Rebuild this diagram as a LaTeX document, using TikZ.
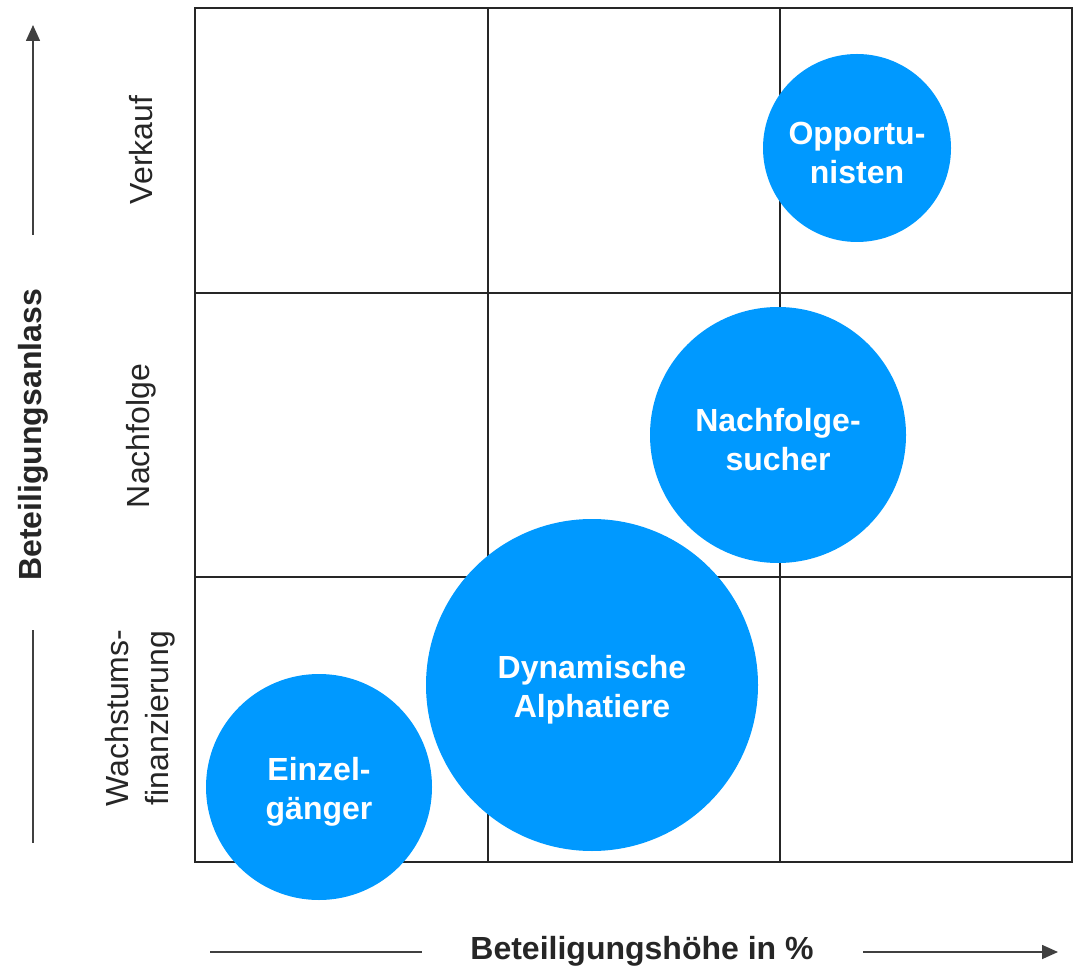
\documentclass[tikz,border=0pt]{standalone}
\usepackage{fontspec}
\setmainfont{Liberation Sans}
\usetikzlibrary{arrows.meta}

\definecolor{bubble}{RGB}{0,153,255}

\tikzstyle{player} = [circle, fill=bubble, inner sep=0pt, anchor=center]
\tikzstyle{playertext} = [text=white, font=\bfseries\fontsize{16}{19.5}\selectfont,%
                          align=center, yshift=-2.5pt]
\tikzstyle{rowlabel} = [rotate=90, align=center, font=\fontsize{16}{20}\selectfont, text=black!85]
\tikzstyle{axislabel} = [font=\bfseries\fontsize{16}{20}\selectfont, text=black!85]
\tikzstyle{axisline} = [draw=black!75, line width=0.8pt]

\begin{document}
\begin{tikzpicture}[x=0.5pt, y=-0.5pt]

	\useasboundingbox (0,0) rectangle (1075,967);

	% portfolio grid
	\draw[draw=black!85, line width=1pt] (195,8) rectangle (1072,862);
	\draw[draw=black!85, line width=1pt] (488,8) -- (488,862) (780,8) -- (780,862);
	\draw[draw=black!85, line width=1pt] (195,293) -- (1072,293) (195,577) -- (1072,577);

	% row labels
	\node (verkauf)   [rowlabel] at (141,150) {Verkauf};
	\node (nachfolge) [rowlabel] at (141,436) {Nachfolge};
	\node (wachstum)  [rowlabel] at (140,718) {Wachstums-\\finanzierung};

	% bubbles
	\node (Opportunisten) [player, minimum size=94pt,  label={[playertext]center:Opportu-\\nisten}] at (857,148) {};
	\node (Nachfolger)    [player, minimum size=128pt, label={[playertext]center:Nachfolge-\\sucher}] at (778,435) {};
	\node (Alphatiere)    [player, minimum size=166pt, label={[playertext]center:Dynamische\\Alphatiere}] at (592,685) {};
	\node (Einzel)        [player, minimum size=113pt, label={[playertext]center:Einzel-\\gänger}] at (319,787) {};

	% vertical axis
	\node (anlass) [axislabel, rotate=90] at (33,435) {Beteiligungsanlass};
	\coordinate (yTop) at (33,25);
	\coordinate (yMid) at (33,235);
	\coordinate (yLow) at (33,630);
	\coordinate (yBot) at (33,843);
	\draw[axisline, -{Triangle[length=8pt, width=7pt]}] (yMid) -- (yTop);
	\draw[axisline] (yLow) -- (yBot);

	% horizontal axis
	\node (hoehe) [axislabel] at (642,951) {Beteiligungshöhe in \%};
	\coordinate (xLeft) at (210,952);
	\coordinate (xEnd) at (422,952);
	\coordinate (xStart) at (863,952);
	\coordinate (xRight) at (1058,952);
	\draw[axisline] (xLeft) -- (xEnd);
	\draw[axisline, -{Triangle[length=8pt, width=7pt]}] (xStart) -- (xRight);

\end{tikzpicture}
\end{document}
